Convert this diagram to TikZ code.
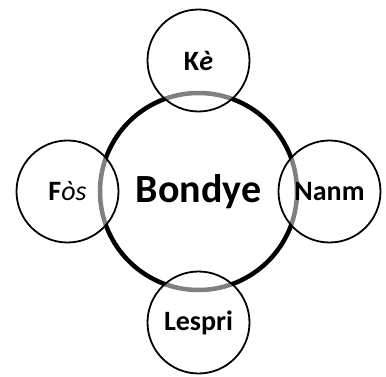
\documentclass[tikz,border=0pt]{standalone}
\usepackage{fontspec}
\setmainfont{Carlito}
\begin{document}
\begin{tikzpicture}[auto,node distance=131pt,thick,
  main node/.style={circle,draw,line width=4.5pt,minimum size=197pt,inner sep=0pt,font=\bfseries\fontsize{40}{48}\selectfont},
  side node/.style={circle,draw,line width=1.8pt,minimum size=102pt,inner sep=0pt,fill=white,fill opacity=0.5,text opacity=1,font=\bfseries\fontsize{28}{32}\selectfont}]
  \useasboundingbox (-198.5pt,-185.5pt) rectangle (187.5pt,191.5pt);
  \node[main node] (0) at (0,0) {Bondye};
  \node[side node] (1) [above of=0] {K\textit{è}};
  \node[side node] (2) [right of=0] {Nanm};
  \node[side node] (3) [below of=0] {Lespri};
  \node[side node] (4) [left of=0] {F{\mdseries\itshape òs}};
\end{tikzpicture}
\end{document}
